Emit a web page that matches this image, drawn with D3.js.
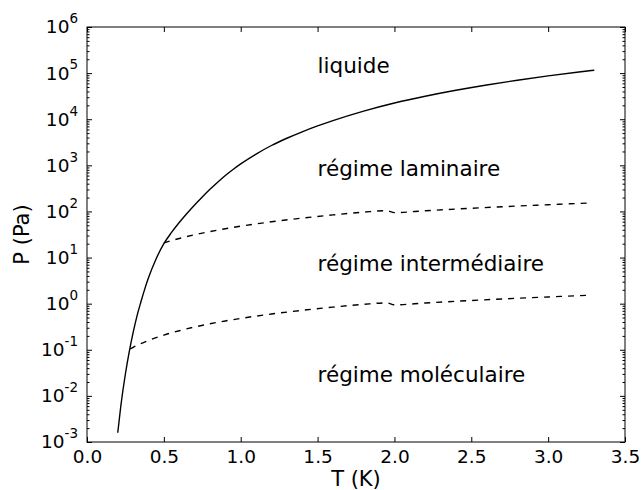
<!DOCTYPE html>
<html><head><meta charset="utf-8">
<script src="https://cdn.jsdelivr.net/npm/d3@7"></script>
<style>body{margin:0;background:#fff}svg{display:block}text{font-family:"DejaVu Sans",sans-serif;fill:#000}</style>
</head><body>
<svg id="c" width="641" height="490"></svg>
<script>
// Saturated vapour pressure curve (solid)
const liqT = [0.2,0.22,0.25,0.275,0.3,0.325,0.35,0.375,0.4,0.45,0.5,0.55,0.6,0.65,0.7,0.75,0.8,0.85,0.9,0.95,1.0,1.1,1.2,1.3,1.4,1.5,1.6,1.8,2.0,2.2,2.4,2.6,2.8,3.0,3.2,3.3];
const liqP = [0.001585,0.00603,0.0302,0.0912,0.2344,0.537,1.072,2.042,3.631,9.44,19.95,35.08,57.5,90.2,138.0,206.1,302,431.5,602.6,812.8,1072,1758,2692,3864,5333,7145,9354,15030,22540,31550,42460,55340,70150,86900,105700,115600];
// Laminaire / intermédiaire boundary (upper dashed)
const upT = [0.5,0.6,0.7,0.8,0.9,1.0,1.2,1.4,1.6,1.8,1.95,2.0,2.2,2.5,2.8,3.0,3.26];
const upP = [20.8,25.9,31.2,36.6,42.2,47.9,59.6,71.7,84.1,96.9,104,94.4,103.5,117.2,131,140,151.7];
// Intermédiaire / moléculaire boundary (lower dashed)
const loT = [0.28,0.3,0.35,0.4,0.5,0.6,0.7,0.8,0.9,1.0,1.2,1.4,1.6,1.8,1.95,2.0,2.2,2.5,2.8,3.0,3.26];
const loP = [0.104,0.1129,0.1358,0.1594,0.208,0.259,0.312,0.366,0.422,0.479,0.596,0.717,0.841,0.969,1.04,0.944,1.035,1.172,1.31,1.40,1.517];
// Region labels
const regionLabels = ["liquide","régime laminaire","régime intermédiaire","régime moléculaire"];
const regionT = [1.5,1.5,1.5,1.5];
const regionP = [1e5,600,5,0.02];
// Ticks
const xTicks = [0,0.5,1.0,1.5,2.0,2.5,3.0,3.5];
const yExp = [-3,-2,-1,0,1,2,3,4,5,6];

const svg = d3.select("#c");
const L=87,R=625,T=27,B=442;
const x = d3.scaleLinear().domain([0,3.5]).range([L,R]);
const y = d3.scaleLog().domain([1e-3,1e6]).range([B,T]);
const yMajor = yExp.map(e=>Math.pow(10,e));
const yMinor = [];
yExp.slice(0,-1).forEach(e=>{for(let k=2;k<10;k++) yMinor.push(k*Math.pow(10,e));});

function style(g){g.select(".domain").remove();g.selectAll("line").attr("stroke","#000").attr("stroke-width",1);}

// bottom
svg.append("g").attr("transform",`translate(0,${B})`)
  .call(d3.axisBottom(x).tickValues(xTicks).tickFormat(d3.format(".1f")).tickSizeInner(-5).tickSizeOuter(0).tickPadding(8))
  .call(style).call(g=>g.selectAll("text").attr("font-size",18.5));
// top
svg.append("g").attr("transform",`translate(0,${T})`)
  .call(d3.axisTop(x).tickValues(xTicks).tickFormat("").tickSizeInner(-5).tickSizeOuter(0)).call(style);
// left major
const gl = svg.append("g").attr("transform",`translate(${L},0)`)
  .call(d3.axisLeft(y).tickValues(yMajor).tickFormat("").tickSizeInner(-5).tickSizeOuter(0).tickPadding(9)).call(style);
gl.selectAll(".tick").each(function(d){
  const e = Math.round(Math.log10(d));
  const t = d3.select(this).append("text").attr("x",-9).attr("dy","0.32em").attr("text-anchor","end").attr("font-size",18.5);
  t.append("tspan").text("10");
  t.append("tspan").attr("font-size",13.5).attr("dy","-0.75em").text(e<0?"-"+(-e):""+e);
});
// left minor
svg.append("g").attr("transform",`translate(${L},0)`)
  .call(d3.axisLeft(y).tickValues(yMinor).tickFormat("").tickSizeInner(-2.5).tickSizeOuter(0)).call(style);
// right
svg.append("g").attr("transform",`translate(${R},0)`)
  .call(d3.axisRight(y).tickValues(yMajor).tickFormat("").tickSizeInner(-5).tickSizeOuter(0)).call(style);
svg.append("g").attr("transform",`translate(${R},0)`)
  .call(d3.axisRight(y).tickValues(yMinor).tickFormat("").tickSizeInner(-2.5).tickSizeOuter(0)).call(style);

// frame
svg.append("rect").attr("x",L).attr("y",T).attr("width",R-L).attr("height",B-T)
  .attr("fill","none").attr("stroke","#000").attr("stroke-width",1);

const smooth = d3.line().x(d=>x(d[0])).y(d=>y(d[1])).curve(d3.curveMonotoneX);
const g = svg.append("g");
g.append("path").datum(liqT.map((t,i)=>[t,liqP[i]])).attr("d",smooth)
  .attr("fill","none").attr("stroke","#000").attr("stroke-width",1.4);
g.append("path").datum(upT.map((t,i)=>[t,upP[i]])).attr("d",smooth)
  .attr("fill","none").attr("stroke","#000").attr("stroke-width",1.4).attr("stroke-dasharray","6,6");
g.append("path").datum(loT.map((t,i)=>[t,loP[i]])).attr("d",smooth)
  .attr("fill","none").attr("stroke","#000").attr("stroke-width",1.4).attr("stroke-dasharray","6,6");

// region labels
regionLabels.forEach((s,i)=>{
  svg.append("text").attr("x",x(regionT[i])).attr("y",y(regionP[i])).attr("font-size",21.5).text(s);
});

// axis labels
svg.append("text").attr("x",(L+R)/2).attr("y",486).attr("text-anchor","middle").attr("font-size",21).text("T (K)");
svg.append("text").attr("transform",`translate(29,${(T+B)/2}) rotate(-90)`).attr("text-anchor","middle").attr("font-size",21).text("P (Pa)");
</script>
</body></html>
